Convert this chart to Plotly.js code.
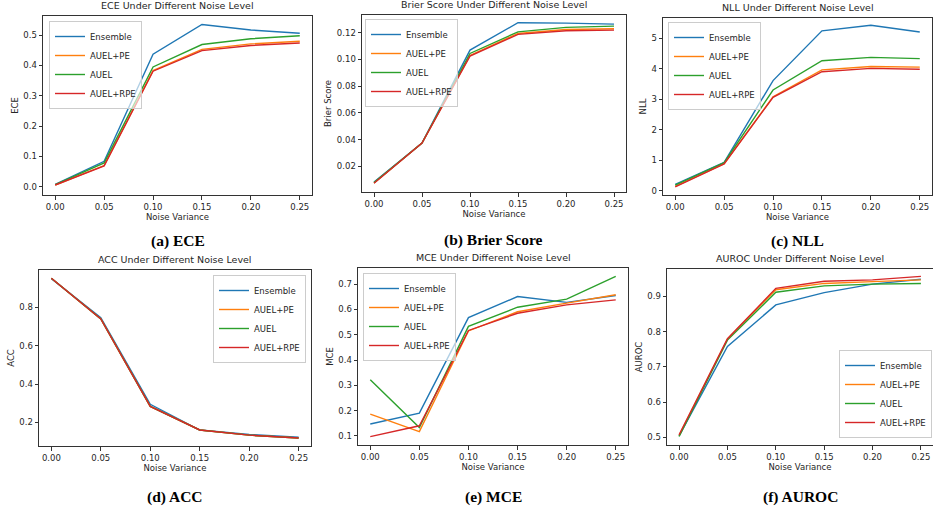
<!DOCTYPE html>
<html><head><meta charset="utf-8">
<script src="https://cdn.plot.ly/plotly-3.0.1.min.js"></script>
<style>html,body{margin:0;padding:0;background:#fff}</style>
</head><body><div id="chart" style="width:933px;height:510px"></div>
<script>
// ---- data ----
const noiseVariance = [0.00, 0.05, 0.10, 0.15, 0.20, 0.25];
const seriesNames = ['Ensemble', 'AUEL+PE', 'AUEL', 'AUEL+RPE'];
const seriesColors = ['#1f77b4', '#ff7f0e', '#2ca02c', '#d62728'];

const eceEnsemble = [0.008, 0.084, 0.437, 0.535, 0.517, 0.506];
const ecePE       = [0.006, 0.070, 0.383, 0.453, 0.471, 0.480];
const eceAUEL     = [0.007, 0.079, 0.395, 0.469, 0.488, 0.498];
const eceRPE      = [0.006, 0.069, 0.381, 0.449, 0.466, 0.474];

const brierEnsemble = [0.0083, 0.0375, 0.1070, 0.1275, 0.1272, 0.1265];
const brierPE       = [0.0075, 0.0375, 0.1030, 0.1195, 0.1225, 0.1230];
const brierAUEL     = [0.0078, 0.0375, 0.1045, 0.1207, 0.1240, 0.1250];
const brierRPE      = [0.0073, 0.0375, 0.1025, 0.1188, 0.1215, 0.1220];

const nllEnsemble = [0.21, 0.93, 3.61, 5.24, 5.42, 5.20];
const nllPE       = [0.14, 0.89, 3.08, 3.96, 4.07, 4.05];
const nllAUEL     = [0.18, 0.92, 3.30, 4.26, 4.37, 4.33];
const nllRPE      = [0.13, 0.88, 3.06, 3.90, 4.01, 3.98];

const accEnsemble = [0.950, 0.746, 0.294, 0.160, 0.137, 0.122];
const accPE       = [0.952, 0.740, 0.283, 0.160, 0.133, 0.118];
const accAUEL     = [0.952, 0.740, 0.283, 0.160, 0.133, 0.118];
const accRPE      = [0.952, 0.740, 0.283, 0.160, 0.133, 0.118];

const mceEnsemble = [0.147, 0.190, 0.568, 0.651, 0.628, 0.655];
const mcePE       = [0.186, 0.117, 0.515, 0.591, 0.625, 0.658];
const mceAUEL     = [0.322, 0.133, 0.533, 0.609, 0.641, 0.731];
const mceRPE      = [0.097, 0.140, 0.517, 0.585, 0.618, 0.638];

const aurocEnsemble = [0.504, 0.758, 0.876, 0.911, 0.935, 0.949];
const aurocPE       = [0.505, 0.779, 0.919, 0.937, 0.942, 0.947];
const aurocAUEL     = [0.502, 0.776, 0.912, 0.930, 0.935, 0.937];
const aurocRPE      = [0.507, 0.780, 0.923, 0.943, 0.947, 0.957];

const xTickVals = [0, 0.05, 0.10, 0.15, 0.20, 0.25];
const xTickText = ['0.00', '0.05', '0.10', '0.15', '0.20', '0.25'];

// ---- layout of panels (pixel boxes) ----
const W = 933, H = 510;
const panels = [
  {metric: 'ECE', title: 'ECE Under Different Noise Level', ylab: 'ECE', cap: '(a) ECE',
   data: [eceEnsemble, ecePE, eceAUEL, eceRPE], box: [43, 312, 16, 195], yr: [-0.027, 0.563], dtick: 0.1, fmt: '.1f',
   leg: {x: 49, y: 21, xa: 'left', ya: 'top'}, capY: 241},
  {metric: 'Brier', title: 'Brier Score Under Different Noise Level', ylab: 'Brier Score', cap: '(b) Brier Score',
   data: [brierEnsemble, brierPE, brierAUEL, brierRPE], box: [362, 626, 15, 192], yr: [0.0008, 0.1333], dtick: 0.02, fmt: '.2f',
   leg: {x: 365, y: 19, xa: 'left', ya: 'top'}, capY: 240},
  {metric: 'NLL', title: 'NLL Under Different Noise Level', ylab: 'NLL', cap: '(c) NLL',
   data: [nllEnsemble, nllPE, nllAUEL, nllRPE], box: [663, 932, 18, 195], yr: [-0.14, 5.66], dtick: 1, fmt: 'd',
   leg: {x: 668, y: 22, xa: 'left', ya: 'top'}, capY: 241},
  {metric: 'ACC', title: 'ACC Under Different Noise Level', ylab: 'ACC', cap: '(d) ACC',
   data: [accEnsemble, accPE, accAUEL, accRPE], box: [39, 311, 270, 446], yr: [0.0765, 0.995], dtick: 0.2, fmt: '.1f',
   leg: {x: 306, y: 275, xa: 'right', ya: 'top'}, capY: 497},
  {metric: 'MCE', title: 'MCE Under Different Noise Level', ylab: 'MCE', cap: '(e) MCE',
   data: [mceEnsemble, mcePE, mceAUEL, mceRPE], box: [358, 628, 268, 445], yr: [0.064, 0.764], dtick: 0.1, fmt: '.1f',
   leg: {x: 363, y: 273, xa: 'left', ya: 'top'}, capY: 497},
  {metric: 'AUROC', title: 'AUROC Under Different Noise Level', ylab: 'AUROC', cap: '(f) AUROC',
   data: [aurocEnsemble, aurocPE, aurocAUEL, aurocRPE], box: [667, 933, 269, 445], yr: [0.478, 0.978], dtick: 0.1, fmt: '.1f',
   leg: {x: 932, y: 438, xa: 'right', ya: 'bottom'}, capY: 497}
];

const px = v => v / W;
const py = v => 1 - v / H;
const tickFont = {family: 'DejaVu Sans, sans-serif', size: 8.5, color: '#262626'};

const traces = [];
const layout = {
  width: W, height: H,
  margin: {l: 0, r: 0, t: 0, b: 0},
  paper_bgcolor: '#fff', plot_bgcolor: '#fff',
  showlegend: true,
  annotations: []
};

panels.forEach((p, i) => {
  const k = i === 0 ? '' : String(i + 1);
  const legKey = 'legend' + k;
  p.data.forEach((vals, s) => {
    traces.push({
      type: 'scatter', mode: 'lines',
      x: noiseVariance, y: vals,
      name: seriesNames[s],
      line: {color: seriesColors[s], width: 1.4},
      xaxis: 'x' + k, yaxis: 'y' + k,
      legend: legKey,
      hoverinfo: 'skip'
    });
  });
  const [x0, x1, y0, y1] = p.box;
  layout['xaxis' + k] = {
    domain: [px(x0), px(x1)], anchor: 'y' + k,
    range: [-0.0125, 0.2625], tickvals: xTickVals, ticktext: xTickText,
    showgrid: false, zeroline: false, showline: true, mirror: true,
    linecolor: '#333', linewidth: 1, ticks: 'outside', ticklen: 3.5, tickcolor: '#333',
    tickfont: tickFont,
    title: {text: 'Noise Variance', font: tickFont, standoff: 2}
  };
  layout['yaxis' + k] = {
    domain: [py(y1), py(y0)], anchor: 'x' + k,
    range: p.yr, dtick: p.dtick, tick0: 0, tickformat: p.fmt,
    showgrid: false, zeroline: false, showline: true, mirror: true,
    linecolor: '#333', linewidth: 1, ticks: 'outside', ticklen: 3.5, tickcolor: '#333',
    tickfont: tickFont,
    title: {text: p.ylab, font: tickFont, standoff: 3}
  };
  layout[legKey] = {
    x: px(p.leg.x), y: py(p.leg.y), xanchor: p.leg.xa, yanchor: p.leg.ya,
    xref: 'paper', yref: 'paper',
    bgcolor: 'rgba(255,255,255,0.65)', bordercolor: '#cccccc', borderwidth: 1,
    font: {family: 'DejaVu Sans, sans-serif', size: 8.5, color: '#262626'},
    tracegroupgap: 0, itemwidth: 30
  };
  layout.annotations.push({
    text: p.title, xref: 'paper', yref: 'paper',
    x: px((x0 + x1) / 2), y: py(y0 - 3), xanchor: 'center', yanchor: 'bottom',
    showarrow: false, font: {family: 'DejaVu Sans, sans-serif', size: 9.5, color: '#262626'}
  });
  layout.annotations.push({
    text: '<b>' + p.cap + '</b>', xref: 'paper', yref: 'paper',
    x: px((x0 + x1) / 2), y: py(p.capY), xanchor: 'center', yanchor: 'middle',
    showarrow: false, font: {family: 'Liberation Serif, Times New Roman, serif', size: 15.5, color: '#000'}
  });
});

Plotly.newPlot('chart', traces, layout, {displayModeBar: false, staticPlot: true});
</script>
</body></html>
